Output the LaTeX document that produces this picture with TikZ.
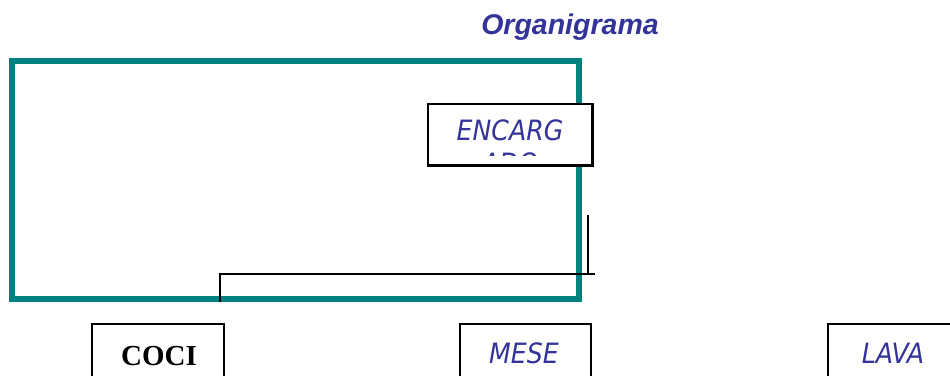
\documentclass[tikz,border=0pt]{standalone}
\usepackage{fontspec}
\setmainfont{Liberation Serif}
\newfontfamily\titlefont{Liberation Sans}
\newfontfamily\boxfont{DejaVu Sans Condensed}
\definecolor{navy}{HTML}{333399}
\definecolor{tealframe}{HTML}{008080}
\tikzset{
  unitbox/.style={draw=black, line width=1.5pt, fill=white, inner sep=0pt},
  bluetext/.style={font=\boxfont\itshape\fontsize{28}{33}\selectfont, text=navy, inner sep=0pt, anchor=base},
  link/.style={draw=black, line width=1.3pt}
}
\begin{document}
\begin{tikzpicture}[x=1pt,y=-1pt]
\useasboundingbox (0,0) rectangle (950,375);
\clip (0,0) rectangle (950,375);
% title
\node[font=\titlefont\bfseries\itshape\fontsize{28.5}{34}\selectfont, text=navy, inner sep=0pt, anchor=base] (title) at (570,34) {Organigrama};
% teal frame
\node[draw=tealframe, line width=6pt, minimum width=567pt, minimum height=238pt, inner sep=0pt] (frame) at (295.5,180) {};
% connectors
\coordinate (c1) at (588,215);
\coordinate (c2) at (588,274);
\coordinate (h1) at (595,274);
\coordinate (h0) at (220,274);
\coordinate (c3) at (220,302);
\draw[link] (c1) -- (c2);
\draw[link] (h1) -- (h0) -- (c3);
% ENCARGADO box
\node[unitbox, minimum width=164pt, minimum height=61pt] (enc) at (510,134.5) {};
\begin{scope}
\clip (428,104) rectangle (592,155.5);
\node[bluetext] (enct1) at (510,140) {ENCARG};
\node[bluetext] (enct2) at (510,173) {ADO};
\end{scope}
\draw[black, line width=1.5pt] (enc.south west) rectangle (enc.north east);
% bottom boxes
\node[unitbox, minimum width=132pt, minimum height=72pt] (coci) at (158,360) {};
\node[font=\bfseries\fontsize{29}{34}\selectfont, inner sep=0pt, anchor=base] (cocit) at (159,365) {COCI};
\node[unitbox, minimum width=131pt, minimum height=72pt] (mese) at (525.5,360) {};
\node[bluetext] (meset) at (524,363) {MESE};
\node[unitbox, minimum width=131pt, minimum height=72pt] (lava) at (893.5,360) {};
\node[bluetext] (lavat) at (893,363) {LAVA};
\end{tikzpicture}
\end{document}
